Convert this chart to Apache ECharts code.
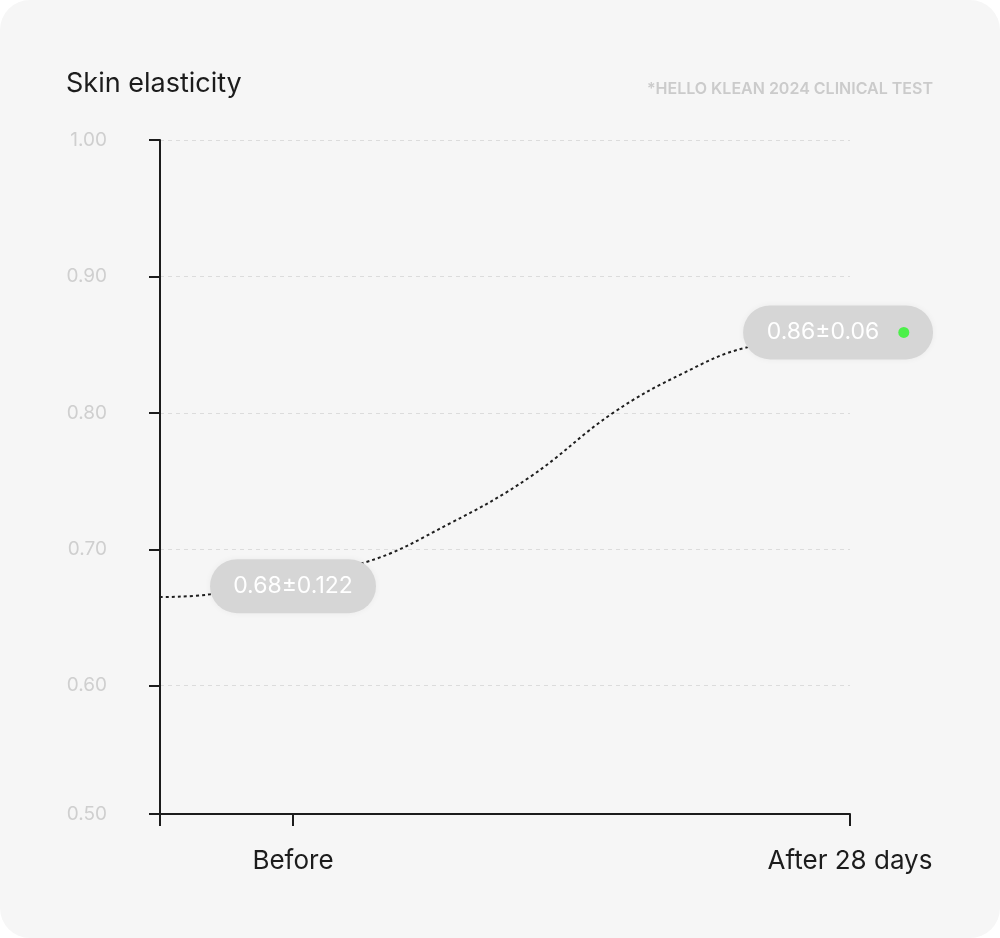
<!DOCTYPE html>
<html>
<head>
<meta charset="utf-8">
<script src="https://cdn.jsdelivr.net/npm/echarts@6/dist/echarts.min.js"></script>
<style>
  html, body { margin: 0; padding: 0; background: #ffffff; }
  .card {
    width: 1000px;
    height: 938px;
    background: #f6f6f6;
    border-radius: 30px;
    position: relative;
  }
  #main { width: 1000px; height: 938px; }
</style>
</head>
<body>
<div class="card"><div id="main"></div></div>
<script>
// x is measured in days, "Before" = day 0, "After 28 days" = day 28
var xMin = -6.686
var xMax = 28
var categoryDays = [0, 28]
var categoryNames = ['Before', 'After 28 days']

// y axis: the bottom line sits a little above 0.50 in the original
var yMin = 0.506
var yMax = 1.0
var yTickValues = [yMin, 0.6, 0.7, 0.8, 0.9, 1.0]
var yTickLabels = ['0.50', '0.60', '0.70', '0.80', '0.90', '1.00']

// the dotted trend line
var curveDays = [-6.69, -4.17, 3.52, 7.89, 11.91, 16.09, 19.61, 22.82, 28]
var curveValues = [0.665, 0.667, 0.69, 0.719, 0.753, 0.8, 0.829, 0.848, 0.858]

// pill labels
var pillDays = [0, 27.4]
var pillValues = [0.673, 0.859]
var pillTexts = ['0.68±0.122', '0.86±0.06']

var myChart = echarts.init(document.getElementById('main'))

var font = 'Inter, "Noto Sans", sans-serif'

// pill outline of w x h with fully rounded ends
function pillPath(w, h) {
  var r = h / 2
  return 'path://M' + r + ',0 H' + (w - r) + ' A' + r + ',' + r + ' 0 0 1 ' + (w - r) + ',' + h +
    ' H' + r + ' A' + r + ',' + r + ' 0 0 1 ' + r + ',0 Z'
}

myChart.setOption({
  animation: false,
  textStyle: { fontFamily: font },
  title: [{
    text: 'Skin elasticity',
    left: 61,
    top: 65,
    textStyle: { color: '#1c1c1c', fontSize: 27, fontWeight: 'normal', fontFamily: font }
  }, {
    text: '*HELLO KLEAN 2024 CLINICAL TEST',
    right: 62,
    top: 76,
    textStyle: { color: '#cbcbcb', fontSize: 16, fontWeight: 600, fontFamily: font }
  }],
  grid: { left: 160, right: 150, top: 140, bottom: 124 },
  xAxis: {
    type: 'value',
    min: xMin,
    max: xMax,
    axisLine: { onZero: false, lineStyle: { color: '#1c1c1c', width: 2 } },
    axisTick: {
      show: true,
      length: 12,
      customValues: [xMin].concat(categoryDays),
      lineStyle: { color: '#1c1c1c', width: 2 }
    },
    axisLabel: {
      customValues: categoryDays,
      margin: 34,
      color: '#1c1c1c',
      fontSize: 26,
      fontFamily: font,
      formatter: function (v) {
        var i = categoryDays.indexOf(v)
        return i >= 0 ? categoryNames[i] : ''
      }
    },
    splitLine: { show: false }
  },
  yAxis: {
    type: 'value',
    min: yMin,
    max: yMax,
    axisLine: { show: true, onZero: false, lineStyle: { color: '#1c1c1c', width: 2 } },
    axisTick: {
      show: true,
      length: 11,
      customValues: yTickValues,
      lineStyle: { color: '#1c1c1c', width: 2 }
    },
    axisLabel: {
      customValues: yTickValues,
      margin: 53,
      color: '#cfcfcf',
      fontSize: 19,
      fontFamily: font,
      formatter: function (v) {
        var i = yTickValues.indexOf(v)
        return i >= 0 ? yTickLabels[i] : ''
      }
    },
    splitLine: { lineStyle: { color: '#dcdcdc', type: [4, 4], width: 1 } }
  },
  series: [{
    type: 'line',
    data: curveDays.map(function (d, i) { return [d, curveValues[i]] }),
    smooth: 0.4,
    showSymbol: false,
    symbol: 'none',
    lineStyle: { color: '#1e1e1e', width: 2, type: [3, 3] },
    z: 2
  }, {
    type: 'scatter',
    z: 10,
    clip: false,
    data: [{
      value: [pillDays[0], pillValues[0]],
      symbol: pillPath(166, 54),
      symbolSize: [166, 54]
    }, {
      value: [pillDays[1], pillValues[1]],
      symbol: pillPath(190, 54),
      symbolSize: [190, 54]
    }],
    itemStyle: {
      color: '#d6d6d6',
      opacity: 1,
      shadowColor: 'rgba(0,0,0,0.05)',
      shadowBlur: 6
    },
    emphasis: { disabled: true },
    label: {
      show: true,
      position: 'inside',
      formatter: function (p) {
        return p.dataIndex === 0
          ? '{a|' + pillTexts[0] + '}'
          : '{b|' + pillTexts[1] + '}{gap|}{dot|}'
      },
      rich: {
        a: { color: '#ffffff', fontSize: 23, fontFamily: font },
        b: { color: '#ffffff', fontSize: 23, fontFamily: font },
        gap: { width: 19 },
        dot: { width: 11, height: 11, borderRadius: 6, backgroundColor: '#4cf04a' }
      }
    }
  }]
})
</script>
</body>
</html>
